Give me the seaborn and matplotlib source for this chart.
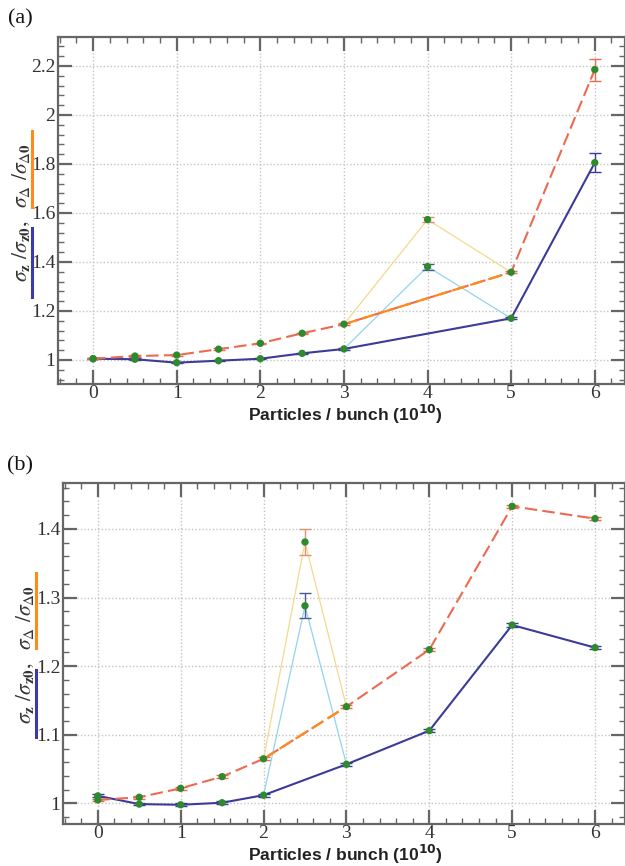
import matplotlib
matplotlib.use("Agg")
import matplotlib.pyplot as plt
from matplotlib.ticker import MultipleLocator, FuncFormatter
from matplotlib.lines import Line2D
import numpy as np
import pandas as pd
import seaborn as sns

# ---------------- data: panel (a) ----------------
n_a = [0, 0.5, 1, 1.5, 2, 2.5, 3, 5, 6]
sz_a = [1.005, 1.003, 0.989, 0.997, 1.005, 1.027, 1.045, 1.170, 1.805]
sz_err_a = [0.003, 0.003, 0.003, 0.003, 0.003, 0.003, 0.003, 0.004, 0.040]
sd_a = [1.005, 1.016, 1.020, 1.044, 1.068, 1.109, 1.146, 1.358, 2.185]
sd_err_a = [0.003, 0.003, 0.003, 0.003, 0.003, 0.003, 0.003, 0.004, 0.045]
spike_n_a = 4
spike_sd_a, spike_sd_err_a = 1.573, 0.012
spike_sz_a, spike_sz_err_a = 1.381, 0.012
bridge_a = (3, 5)

# ---------------- data: panel (b) ----------------
n_b = [0, 0.5, 1, 1.5, 2, 3, 4, 5, 6]
sz_b = [1.011, 0.999, 0.998, 1.001, 1.012, 1.057, 1.106, 1.260, 1.227]
sz_err_b = [0.002, 0.002, 0.002, 0.002, 0.002, 0.002, 0.002, 0.003, 0.002]
sd_b = [1.005, 1.009, 1.022, 1.039, 1.065, 1.141, 1.224, 1.433, 1.415]
sd_err_b = [0.002, 0.002, 0.002, 0.002, 0.002, 0.002, 0.002, 0.002, 0.002]
spike_n_b = 2.5
spike_sd_b, spike_sd_err_b = 1.381, 0.019
spike_sz_b, spike_sz_err_b = 1.288, 0.018
bridge_b = (2, 3)

BLUE = "#3b3b99"
RED = "#ec6a50"
ORANGE = "#ff8a1c"
PALE_ORANGE = "#f6d88e"
PALE_CYAN = "#92d4ee"
GREEN = "#2d8a2d"

plt.rcParams["font.family"] = ["Liberation Serif", "DejaVu Serif"]

fig = plt.figure(figsize=(6.25, 8.66), dpi=100)
ax_a = fig.add_axes([0.0928, 0.5566, 0.907, 0.4007])
ax_b = fig.add_axes([0.1008, 0.0485, 0.899, 0.3938])


def draw_panel(ax, n, sz, sz_err, sd, sd_err, spike_n, spike_sd, spike_sd_err,
               spike_sz, spike_sz_err, bridge):
    df = pd.DataFrame({"n": n, "sz": sz, "sd": sd, "sz_err": sz_err, "sd_err": sd_err})
    lo, hi = bridge
    i_lo, i_hi = n.index(lo), n.index(hi)

    # thin detour lines through the unstable point
    det_sd = pd.DataFrame({"n": [lo, spike_n, hi], "v": [sd[i_lo], spike_sd, sd[i_hi]]})
    det_sz = pd.DataFrame({"n": [lo, spike_n, hi], "v": [sz[i_lo], spike_sz, sz[i_hi]]})
    sns.lineplot(data=det_sd, x="n", y="v", ax=ax, color=PALE_ORANGE, linewidth=0.9,
                 errorbar=None, zorder=2)
    sns.lineplot(data=det_sz, x="n", y="v", ax=ax, color=PALE_CYAN, linewidth=0.9,
                 errorbar=None, zorder=2)

    # main curves
    sns.lineplot(data=df, x="n", y="sz", ax=ax, color=BLUE, linewidth=1.5,
                 errorbar=None, zorder=3)
    sns.lineplot(data=df, x="n", y="sd", ax=ax, color=RED, linewidth=1.5,
                 linestyle=(0, (6, 2.5)), errorbar=None, zorder=3)
    seg = df.iloc[[i_lo, i_hi]]
    sns.lineplot(data=seg, x="n", y="sd", ax=ax, color=ORANGE, linewidth=1.6,
                 linestyle=(0, (6, 2.5)), errorbar=None, zorder=4)

    # error bars
    ax.errorbar(df["n"], df["sz"], yerr=df["sz_err"], fmt="none", ecolor=BLUE,
                elinewidth=1.0, capsize=4, capthick=1.0, zorder=4)
    ax.errorbar(df["n"], df["sd"], yerr=df["sd_err"], fmt="none", ecolor=RED,
                elinewidth=1.0, capsize=4, capthick=1.0, zorder=4)
    ax.errorbar([spike_n], [spike_sd], yerr=[spike_sd_err], fmt="none", ecolor="#e39070",
                elinewidth=1.0, capsize=4, capthick=1.0, zorder=4)
    ax.errorbar([spike_n], [spike_sz], yerr=[spike_sz_err], fmt="none", ecolor="#4a5a8a",
                elinewidth=1.0, capsize=4, capthick=1.0, zorder=4)

    # measured points
    pts = pd.DataFrame({"n": list(n) * 2 + [spike_n, spike_n],
                        "v": list(sz) + list(sd) + [spike_sz, spike_sd]})
    sns.scatterplot(data=pts, x="n", y="v", ax=ax, color=GREEN, s=28,
                    edgecolor="none", zorder=5)


def style_axes(ax, ylim, ymajor, yminor):
    ax.set_xlim(-0.42, 6.36)
    ax.set_ylim(*ylim)
    ax.xaxis.set_major_locator(MultipleLocator(1))
    ax.xaxis.set_minor_locator(MultipleLocator(0.2))
    ax.yaxis.set_major_locator(MultipleLocator(ymajor))
    ax.yaxis.set_minor_locator(MultipleLocator(yminor))
    ax.yaxis.set_major_formatter(FuncFormatter(lambda v, p: f"{v:g}"))
    ax.xaxis.set_major_formatter(FuncFormatter(lambda v, p: f"{v:g}"))
    ax.tick_params(which="both", direction="in", top=True, right=True, color="#666666")
    ax.tick_params(which="major", length=10, width=1.6, labelsize=14,
                   labelcolor="#333333")
    ax.tick_params(which="minor", length=4, width=1.0)
    ax.tick_params(axis="y", pad=2)
    ax.tick_params(axis="x", pad=1)
    for lab in ax.get_xticklabels() + ax.get_yticklabels():
        lab.set_fontfamily(["Liberation Serif", "DejaVu Serif"])
    for sp in ax.spines.values():
        sp.set_color("#666666")
        sp.set_linewidth(1.6)
    ax.grid(True, which="major", linestyle=(0, (1, 1.5)), color="#c4c4c4", linewidth=1.0)
    ax.set_axisbelow(True)
    ax.set_xlabel("")
    ax.set_ylabel("")


draw_panel(ax_a, n_a, sz_a, sz_err_a, sd_a, sd_err_a, spike_n_a, spike_sd_a,
           spike_sd_err_a, spike_sz_a, spike_sz_err_a, bridge_a)
style_axes(ax_a, (0.902, 2.318), 0.2, 0.04)

draw_panel(ax_b, n_b, sz_b, sz_err_b, sd_b, sd_err_b, spike_n_b, spike_sd_b,
           spike_sd_err_b, spike_sz_b, spike_sz_err_b, bridge_b)
style_axes(ax_b, (0.970, 1.467), 0.1, 0.02)

W, H = 625.0, 866.0
ylab = r"$\sigma_{\mathbf{z}}\ /\sigma_{\mathbf{z0}},\ \ \sigma_{\Delta}\ /\sigma_{\Delta\mathbf{0}}$"
xlab = r"Particles / bunch (10$^{\mathbf{10}}$)"

for (tx, ty, lx, blue_span, orange_span, xl_base, tag_y, tag) in [
    (21, 213, 31.5, (228, 297), (131, 207), 421, 19, "(a)"),
    (25, 655, 36, (670, 737), (573, 648), 861, 466, "(b)"),
]:
    fig.text(tx / W, 1 - ty / H, ylab, rotation=90, ha="center", va="center",
             fontsize=15.5, color="#333333", math_fontfamily="stix")
    fig.add_artist(Line2D([lx / W, lx / W], [1 - blue_span[0] / H, 1 - blue_span[1] / H],
                          transform=fig.transFigure, color="#3a3aa8", linewidth=2.2))
    fig.add_artist(Line2D([lx / W, lx / W], [1 - orange_span[0] / H, 1 - orange_span[1] / H],
                          transform=fig.transFigure, color="#ff8c1a", linewidth=2.2))
    fig.text(345 / W, 1 - xl_base / H, xlab, ha="center", va="baseline", fontsize=12.6,
             fontweight="bold", family=["Liberation Sans", "DejaVu Sans"],
             color="#222222", math_fontfamily="dejavusans")
    fig.text(20 / W, 1 - tag_y / H, tag, ha="center", va="center", fontsize=16,
             color="#111111")

fig.savefig("out.png", dpi=100)
